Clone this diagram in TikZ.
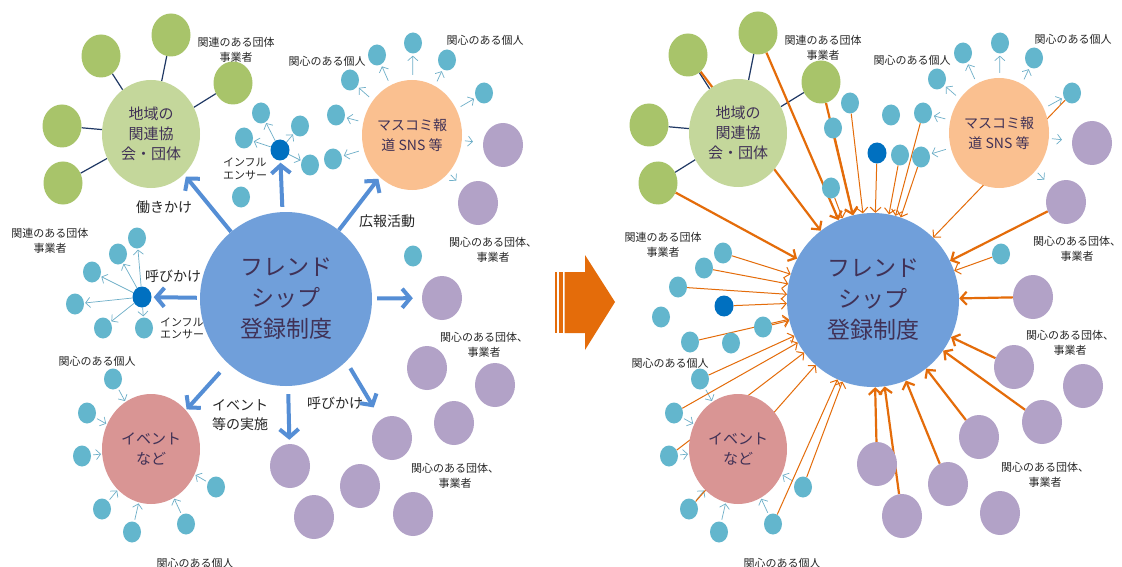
\documentclass[tikz,border=0pt]{standalone}
\usepackage{fontspec}
\setmainfont{Noto Sans CJK JP}
\usetikzlibrary{shapes.geometric,arrows.meta,calc}
\definecolor{cMain}{RGB}{112,159,218}
\definecolor{cTxt}{RGB}{64,49,86}
\definecolor{cGreenBig}{RGB}{196,215,155}
\definecolor{cGreen}{RGB}{168,196,106}
\definecolor{cNavy}{RGB}{31,56,100}
\definecolor{cOrange}{RGB}{250,192,144}
\definecolor{cPink}{RGB}{217,149,148}
\definecolor{cTeal}{RGB}{99,182,205}
\definecolor{cDark}{RGB}{0,112,192}
\definecolor{cPurple}{RGB}{178,162,199}
\definecolor{cBArrow}{RGB}{85,142,213}
\definecolor{cOArrow}{RGB}{228,108,10}
\definecolor{cTLine}{RGB}{110,175,200}
\pgfdeclarelayer{bg}\pgfdeclarelayer{ln}\pgfsetlayers{bg,ln,main}
\tikzset{
 blob/.style={ellipse,inner sep=0pt,draw=none},
 mainc/.style={blob,fill=cMain,minimum width=172pt,minimum height=174pt},
 maintxt/.style={text=cTxt,font=\fontsize{23}{31}\selectfont,align=center,inner sep=0pt},
 midtxt/.style={text=cTxt,font=\fontsize{15}{20}\selectfont,align=center,inner sep=0pt},
 greenbig/.style={blob,fill=cGreenBig,minimum width=98pt,minimum height=108pt},
 orangec/.style={blob,fill=cOrange,minimum width=100pt,minimum height=110pt},
 pinkc/.style={blob,fill=cPink,minimum width=98pt,minimum height=110pt},
 gdot/.style={blob,fill=cGreen,minimum width=39pt,minimum height=43pt},
 pdot/.style={blob,fill=cPurple,minimum width=40pt,minimum height=44pt},
 tdot/.style={blob,fill=cTeal,minimum width=18pt,minimum height=21pt},
 ddot/.style={blob,fill=cDark,minimum width=19pt,minimum height=21pt},
 lab/.style={font=\fontsize{11}{15}\selectfont,align=center,inner sep=0pt,text=black!85},
 vlab/.style={font=\fontsize{14}{19}\selectfont,align=left,inner sep=0pt,text=black!85},
 ilab/.style={font=\fontsize{11}{12.5}\selectfont,align=left,inner sep=0pt,text=black!85},
 navyline/.style={draw=cNavy,line width=1.2pt},
 tarrow/.style={draw=cTLine,line width=0.7pt,-{Straight Barb[length=4.5pt,width=10pt]}},
 barrow/.style={draw=cBArrow,line width=4pt,-{Straight Barb[length=8pt,width=19pt]}},
 othick/.style={draw=cOArrow,line width=2.2pt,-{Straight Barb[length=6pt,width=13pt]}},
 othin/.style={draw=cOArrow,line width=1pt,-{Straight Barb[length=5pt,width=11pt]}},
}
\newcommand\ndT[3]{\node[tdot] (#1) at (#2,#3) {};}
\newcommand\ndP[3]{\node[pdot] (#1) at (#2,#3) {};}
\newcommand\ndG[3]{\node[gdot] (#1) at (#2,#3) {};}
\newcommand\ndD[3]{\node[ddot] (#1) at (#2,#3) {};}
\begin{document}
\begin{tikzpicture}[x=1pt,y=-1pt]
\useasboundingbox (0,0) rectangle (1122,567);
% ================= big centre circles (bottom layer)
\begin{pgfonlayer}{bg}
\fill[white] (0,0) rectangle (1122,567);
\node[mainc,label={[maintxt]center:フレンド\\シップ\\登録制度}] (mainL) at (286,299) {};
\node[mainc,label={[maintxt]center:フレンド\\シップ\\登録制度}] (mainR) at (873,300) {};
\end{pgfonlayer}
% ================= LEFT DIAGRAM
\node[greenbig,label={[midtxt]center:地域の\\関連協\\会・団体}] (gL) at (151,134) {};
\node[orangec,label={[midtxt,font=\fontsize{14}{20}\selectfont]center:マスコミ報\\道 SNS 等}] (oL) at (412,135) {};
\node[pinkc,label={[midtxt]center:イベント\\など}] (eL) at (151,449) {};
\ndG{Lg1}{101}{56}\ndG{Lg2}{171}{35}\ndG{Lg3}{233}{83}\ndG{Lg4}{62}{126}\ndG{Lg5}{63}{183}
\ndD{iT}{280}{150}
\ndT{Lt1}{261}{113}\ndT{Lt2}{244}{138}\ndT{Lt3}{300}{126}\ndT{Lt4}{310}{165}\ndT{Lt5}{241}{197}
\ndD{iL}{142}{297}
\ndT{Ll1}{137}{238}\ndT{Ll2}{118}{254}\ndT{Ll3}{92}{272}\ndT{Ll4}{75}{304}\ndT{Ll5}{103}{328}\ndT{Ll6}{144}{328}
\ndT{Lo1}{350}{80}\ndT{Lo2}{377}{55}\ndT{Lo3}{413}{43}\ndT{Lo4}{447}{60}\ndT{Lo5}{484}{93}\ndT{Lo6}{336}{115}\ndT{Lo7}{333}{159}
\ndP{Lp1}{503}{145}\ndP{Lp2}{478}{203}
\ndT{Le1}{113}{379}\ndT{Le2}{87}{413}\ndT{Le3}{82}{456}\ndT{Le4}{102}{509}\ndT{Le5}{132}{532}\ndT{Le6}{186}{524}\ndT{Le7}{216}{487}
\ndT{Lx}{413}{256}
\ndP{Lp3}{442}{298}\ndP{Lp4}{427}{368}\ndP{Lp5}{495}{385}\ndP{Lp6}{454}{423}\ndP{Lp7}{392}{438}
\ndP{Lp8}{290}{466}\ndP{Lp9}{360}{486}\ndP{Lp10}{314}{517}\ndP{Lp11}{413}{514}
% labels left
\node[lab] (l1) at (236,49.5) {関連のある団体\\事業者};
\node[lab] (l2) at (327,61) {関心のある個人};
\node[lab] (l3) at (485,40) {関心のある個人};
\node[lab] (l4) at (50,240.5) {関連のある団体\\事業者};
\node[lab] (l5) at (97,361) {関心のある個人};
\node[lab] (l6) at (493,249.5) {関心のある団体、\\事業者};
\node[lab] (l7) at (484,345) {関心のある団体、\\事業者};
\node[lab] (l8) at (455,476) {関心のある団体、\\事業者};
\node[lab] (l9) at (195,563) {関心のある個人};
\node[vlab] (v1) at (164,207) {働きかけ};
\node[vlab] (v2) at (387,221) {広報活動};
\node[vlab] (v3) at (173,276) {呼びかけ};
\node[vlab] (v4) at (335,403) {呼びかけ};
\node[vlab] (v5) at (240,415.5) {イベント\\等の実施};
\node[ilab] (i1) at (245,169) {インフル\\エンサー};
\node[ilab] (i2) at (182,328.5) {インフル\\エンサー};
% connectors left
\begin{pgfonlayer}{ln}
\foreach \t in {Lg1,Lg2,Lg3,Lg4,Lg5} \draw[navyline] (gL) -- (\t);
\foreach \t in {Lt1,Lt2,Lt3,Lt4} \draw[tarrow,shorten >=1pt] (iT) -- (\t);
\foreach \t in {Ll1,Ll2,Ll3,Ll4,Ll5,Ll6} \draw[tarrow,shorten >=1pt] (iL) -- (\t);
\foreach \t in {Lo1,Lo2,Lo3,Lo4,Lo5,Lo6,Lo7} \draw[tarrow,shorten <=5pt,shorten >=2pt] (oL) -- (\t);
\foreach \t in {Lp1,Lp2} \draw[tarrow,shorten <=3pt,shorten >=10pt] (oL) -- (\t);
\foreach \t in {Le1,Le2,Le3,Le4,Le5,Le6,Le7} \draw[tarrow,shorten <=2pt,shorten >=1pt] (\t) -- (eL);
\end{pgfonlayer}
\draw[barrow,shorten >=3pt] (mainL) -- (gL);
\draw[barrow,shorten <=5pt,shorten >=2pt] (mainL) -- (iT);
\draw[barrow,shorten >=2pt] (mainL) -- (oL);
\draw[barrow,shorten <=5pt,shorten >=9pt] (mainL) -- (Lp3);
\draw[barrow,shorten <=3pt,shorten >=2pt] (mainL) -- (iL);
\draw[barrow,shorten <=12pt,shorten >=1pt] (mainL) -- (eL);
\draw[barrow,shorten <=8pt,shorten >=4pt] (mainL) -- (Lp8);
\draw[barrow,shorten <=8pt,shorten >=14pt] (mainL.-46) -- (Lp7);
% ================= MIDDLE ARROW
\fill[cOArrow] (555,272) rectangle (557,333);
\fill[cOArrow] (559,272) rectangle (563,333);
\fill[cOArrow] (564.5,272) -- (585,272) -- (585,255) -- (615,302) -- (585,350) -- (585,333) -- (564.5,333) -- cycle;
% ================= RIGHT DIAGRAM
\node[greenbig,label={[midtxt]center:地域の\\関連協\\会・団体}] (gR) at (738,133) {};
\node[orangec,label={[midtxt,font=\fontsize{14}{20}\selectfont]center:マスコミ報\\道 SNS 等}] (oR) at (999,133) {};
\node[pinkc,label={[midtxt]center:イベント\\など}] (eR) at (738,449) {};
\ndG{Rg1}{688}{55}\ndG{Rg2}{758}{33}\ndG{Rg3}{821}{82}\ndG{Rg4}{649}{125}\ndG{Rg5}{658}{183}
\ndT{Ro1}{937}{79}\ndT{Ro2}{963}{53}\ndT{Ro3}{1000}{43}\ndT{Ro4}{1034}{58}\ndT{Ro5}{1072}{93}\ndT{Ro6}{923}{113}\ndT{Ro7}{921}{157}
\ndP{Rp1}{1092}{143}\ndP{Rp2}{1066}{202}
\ndT{Rt1}{850}{103}\ndT{Rt2}{833}{128}\ndT{Rt3}{831}{188}\ndT{Rt4}{891}{115}\ndT{Rt5}{900}{155}
\ndD{iTR}{877}{153}
\ndT{Rx}{1001}{254}
\ndP{Rp3}{1033}{297}\ndP{Rp4}{1014}{367}\ndP{Rp5}{1083}{386}\ndP{Rp6}{1042}{422}\ndP{Rp7}{979}{437}
\ndP{Rp8}{877}{464}\ndP{Rp9}{948}{484}\ndP{Rp10}{902}{516}\ndP{Rp11}{1000}{513}
\ndT{Rl1}{723}{253}\ndT{Rl2}{704}{268}\ndT{Rl3}{678}{287}\ndD{iLR}{724}{306}\ndT{Rl4}{661}{317}
\ndT{Rl5}{763}{327}\ndT{Rl6}{690}{342}\ndT{Rl7}{731}{343}
\ndT{Re1}{700}{379}\ndT{Re2}{674}{413}\ndT{Re3}{669}{456}\ndT{Re4}{689}{509}\ndT{Re5}{719}{532}\ndT{Re6}{773}{524}\ndT{Re7}{803}{487}
% labels right
\node[lab] (r1) at (823,47.5) {関連のある団体\\事業者};
\node[lab] (r2) at (912,60) {関心のある個人};
\node[lab] (r3) at (1073,39) {関心のある個人};
\node[lab] (r4) at (663,244.5) {関連のある団体\\事業者};
\node[lab] (r5) at (670,363) {関心のある個人};
\node[lab] (r6) at (1077,248.5) {関心のある団体、\\事業者};
\node[lab] (r7) at (1070,343) {関心のある団体、\\事業者};
\node[lab] (r8) at (1045,475) {関心のある団体、\\事業者};
\node[lab] (r9) at (782,563) {関心のある個人};
% connectors right
\begin{pgfonlayer}{ln}
\foreach \t in {Rg1,Rg2,Rg3,Rg4,Rg5} \draw[navyline] (gR) -- (\t);
\foreach \t in {Ro1,Ro2,Ro3,Ro4,Ro5,Ro6,Ro7} \draw[tarrow,shorten <=5pt,shorten >=2pt] (oR) -- (\t);
\foreach \t in {Rp1,Rp2} \draw[tarrow,shorten <=3pt,shorten >=10pt] (oR) -- (\t);
\foreach \t in {Re1,Re2,Re3,Re4,Re5,Re6,Re7} \draw[tarrow,shorten <=2pt,shorten >=1pt] (\t) -- (eR);
\foreach \t in {Rg1,Rg2,Rg3,Rg5,Rp2,Rp3,Rp4,Rp6,Rp7,Rp8,Rp9,Rp10} \draw[othick] (\t) -- (mainR);
\foreach \t in {Rt1,Rt2,Rt3,iTR,Rt5,Ro7,Ro6,Ro5,Rx,Rl1,Rl2,Rl3,iLR,Rl5,Rl6,Re1,Re2,Re3,Re4,Re6,Re7} \draw[othin] (\t) -- (mainR);
\end{pgfonlayer}
\end{tikzpicture}
\end{document}
